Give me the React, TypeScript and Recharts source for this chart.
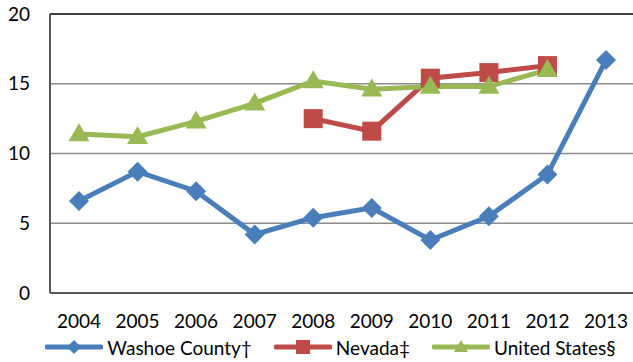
import React from "react";
import { LineChart, Line, XAxis, YAxis, CartesianGrid, Legend, ReferenceLine } from "recharts";

const years = ["2004", "2005", "2006", "2007", "2008", "2009", "2010", "2011", "2012", "2013"];
const washoe = [6.6, 8.7, 7.3, 4.2, 5.4, 6.1, 3.8, 5.5, 8.5, 16.7];
const nevada = [null, null, null, null, 12.5, 11.6, 15.4, 15.8, 16.3, null];
const unitedStates = [11.4, 11.2, 12.3, 13.6, 15.2, 14.6, 14.8, 14.8, 16.0, null];
const yTicks = [0, 5, 10, 15, 20];

const BLUE = "#4A7EBB";
const RED = "#BE4B48";
const GREEN = "#98B954";
const FONT = "Lato, 'Open Sans', sans-serif";

const data = years.map((y, i) => ({ year: y, washoe: washoe[i], nevada: nevada[i], us: unitedStates[i] }));

const Diamond = (props: any) => {
  const { cx, cy, value } = props;
  if (value == null || cx == null || cy == null) return <g key={props.key} />;
  const r = 10;
  return <path key={props.key} d={`M${cx},${cy - r}L${cx + r},${cy}L${cx},${cy + r}L${cx - r},${cy}Z`} fill={BLUE} />;
};
const Square = (props: any) => {
  const { cx, cy, value } = props;
  if (value == null || cx == null || cy == null) return <g key={props.key} />;
  const r = 9.5;
  return <rect key={props.key} x={cx - r} y={cy - r} width={2 * r} height={2 * r} fill={RED} />;
};
const Triangle = (props: any) => {
  const { cx, cy, value } = props;
  if (value == null || cx == null || cy == null) return <g key={props.key} />;
  const w = 10.5, h = 18;
  return <path key={props.key} d={`M${cx},${cy - h * 0.6}L${cx + w},${cy + h * 0.4}L${cx - w},${cy + h * 0.4}Z`} fill={GREEN} />;
};

const legendItems = [
  { label: "Washoe County†", color: BLUE, shape: "diamond" },
  { label: "Nevada‡", color: RED, shape: "square" },
  { label: "United States§", color: GREEN, shape: "triangle" },
];

const LegendContent = () => (
  <div style={{ display: "flex", justifyContent: "center", alignItems: "center", height: 24, fontFamily: FONT, fontSize: 19, color: "#000", paddingLeft: 26 }}>
    {legendItems.map((it, i) => (
      <div key={it.label} style={{ display: "flex", alignItems: "center", marginLeft: i === 0 ? 0 : 22 }}>
        <svg width={58} height={20}>
          <line x1={2} y1={10} x2={56} y2={10} stroke={it.color} strokeWidth={5} strokeLinecap="round" />
          {it.shape === "diamond" && <path d="M29,3L36,10L29,17L22,10Z" fill={it.color} />}
          {it.shape === "square" && <rect x={22} y={3} width={14} height={14} fill={it.color} />}
          {it.shape === "triangle" && <path d="M29,3L36,15L22,15Z" fill={it.color} />}
        </svg>
        <span style={{ marginLeft: 4 }}>{it.label}</span>
      </div>
    ))}
  </div>
);

export default function App() {
  return (
    <div style={{ position: "absolute", left: 0, top: 0, width: 633, height: 362, overflow: "hidden", background: "#fff" }}>
      <LineChart width={640} height={362} data={data} margin={{ top: 14, right: 5, left: 0, bottom: 3 }}>
        <CartesianGrid vertical={false} stroke="#8c8c8c" strokeWidth={1.5} />
        <XAxis
          dataKey="year"
          padding={{ left: 29, right: 29 }}
          tickLine={false}
          tickSize={0}
          tickMargin={22}
          height={42}
          axisLine={{ stroke: "#595959", strokeWidth: 2 }}
          tick={{ fill: "#000", fontSize: 19, fontFamily: FONT }}
          interval={0}
        />
        <YAxis
          domain={[0, 20]}
          ticks={yTicks}
          width={50}
          tickLine={false}
          tickSize={0}
          tickMargin={20}
          axisLine={{ stroke: "#595959", strokeWidth: 2 }}
          tick={{ fill: "#000", fontSize: 19, fontFamily: FONT }}
        />
        <ReferenceLine y={20} stroke="#404040" strokeWidth={2} />
        <Legend verticalAlign="bottom" height={24} content={<LegendContent />} />
        <Line dataKey="washoe" stroke={BLUE} strokeWidth={5} dot={Diamond} activeDot={false} isAnimationActive={false} />
        <Line dataKey="nevada" stroke={RED} strokeWidth={5} dot={Square} activeDot={false} isAnimationActive={false} />
        <Line dataKey="us" stroke={GREEN} strokeWidth={5} dot={Triangle} activeDot={false} isAnimationActive={false} />
      </LineChart>
    </div>
  );
}
